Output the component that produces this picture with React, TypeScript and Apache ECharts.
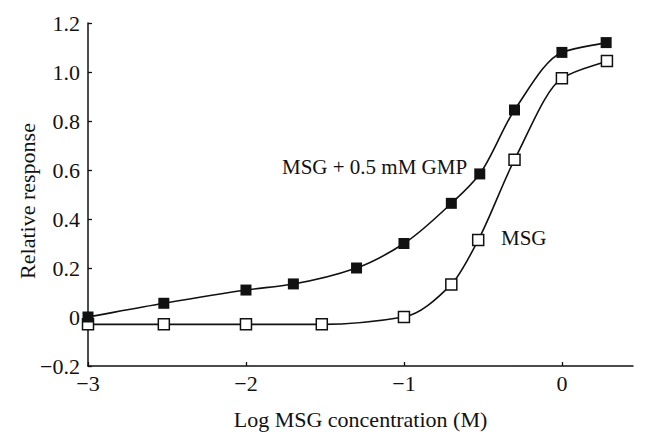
import React, { useEffect, useRef } from "react";
import * as echarts from "echarts";

const gmpX = [-3, -2.52, -2, -1.7, -1.3, -1, -0.7, -0.52, -0.3, 0, 0.28];
const gmpY = [0.0, 0.056, 0.11, 0.135, 0.2, 0.3, 0.464, 0.584, 0.845, 1.08, 1.12];
const msgX = [-3, -2.52, -2, -1.52, -1, -0.7, -0.53, -0.3, 0, 0.285];
const msgY = [-0.03, -0.03, -0.03, -0.03, 0.0, 0.133, 0.314, 0.642, 0.974, 1.045];
const xTicks = [-3, -2, -1, 0];
const seriesLabels = ["MSG + 0.5 mM GMP", "MSG"];
const yTitle = "Relative response";
const xTitle = "Log MSG concentration (M)";

const FONT = "'Liberation Serif', 'DejaVu Serif', serif";

// Monotone (PCHIP) bezier segment renderer working on pixel coordinates from the axes
function makeCurveRenderer(xs: number[], ys: number[]) {
  return (params: any, api: any) => {
    const i = params.dataIndex;
    const n = xs.length;
    if (i >= n - 1) return null;
    const P = xs.map((x, k) => api.coord([x, ys[k]]));
    const h: number[] = [];
    const d: number[] = [];
    for (let k = 0; k < n - 1; k++) {
      h[k] = P[k + 1][0] - P[k][0];
      d[k] = (P[k + 1][1] - P[k][1]) / h[k];
    }
    const m: number[] = [];
    m[0] = d[0];
    m[n - 1] = d[n - 2];
    for (let k = 1; k < n - 1; k++) {
      if (d[k - 1] * d[k] <= 0) m[k] = 0;
      else {
        const w1 = 2 * h[k] + h[k - 1];
        const w2 = h[k] + 2 * h[k - 1];
        m[k] = (w1 + w2) / (w1 / d[k - 1] + w2 / d[k]);
      }
    }
    const hh = h[i] / 3;
    return {
      type: "bezierCurve",
      shape: {
        x1: P[i][0],
        y1: P[i][1],
        x2: P[i + 1][0],
        y2: P[i + 1][1],
        cpx1: P[i][0] + hh,
        cpy1: P[i][1] + m[i] * hh,
        cpx2: P[i + 1][0] - hh,
        cpy2: P[i + 1][1] - m[i + 1] * hh,
      },
      style: { stroke: "#111", lineWidth: 1.6, fill: "none" },
    };
  };
}

export default function App() {
  const ref = useRef<HTMLDivElement>(null);
  useEffect(() => {
    if (!ref.current) return;
    const chart = echarts.init(ref.current, null, { renderer: "svg" });
    const fmt = (v: number) => {
      if (Math.abs(v) < 1e-9) return "0";
      return v.toFixed(1).replace("-", "\u2212");
    };
    const gmpData = gmpX.map((x, i) => [x, gmpY[i]]);
    const msgData = msgX.map((x, i) => [x, msgY[i]]);
    chart.setOption({
      animation: false,
      backgroundColor: "#ffffff",
      textStyle: { fontFamily: FONT },
      grid: { left: 88, right: 14, top: 23, bottom: 77, containLabel: false },
      xAxis: {
        type: "value",
        min: -3,
        max: 0.45,
        interval: 1,
        name: xTitle,
        nameLocation: "middle",
        nameGap: 42,
        nameTextStyle: { fontFamily: FONT, fontSize: 22, color: "#111" },
        axisLine: { show: true, onZero: false, lineStyle: { color: "#111", width: 1.5 } },
        axisTick: { show: true, inside: true, length: 4, customValues: xTicks, lineStyle: { color: "#111", width: 1.3 } },
        axisLabel: {
          customValues: xTicks,
          fontFamily: FONT,
          fontSize: 22,
          color: "#111",
          margin: 6,
          formatter: (v: number) => (Math.abs(v) < 1e-9 ? "0" : String(Math.round(v)).replace("-", "\u2212")),
        },
        splitLine: { show: false },
      },
      yAxis: {
        type: "value",
        min: -0.2,
        max: 1.2,
        interval: 0.2,
        axisLine: { show: true, onZero: false, lineStyle: { color: "#111", width: 1.5 } },
        axisTick: { show: true, inside: true, length: 4, lineStyle: { color: "#111", width: 1.3 } },
        axisLabel: { fontFamily: FONT, fontSize: 22, color: "#111", margin: 8, formatter: fmt },
        splitLine: { show: false },
      },
      series: [
        {
          name: seriesLabels[1] + " curve",
          type: "custom",
          data: msgData,
          encode: { x: 0, y: 1 },
          renderItem: makeCurveRenderer(msgX, msgY),
          z: 2,
          silent: true,
        },
        {
          name: seriesLabels[0] + " curve",
          type: "custom",
          data: gmpData,
          encode: { x: 0, y: 1 },
          renderItem: makeCurveRenderer(gmpX, gmpY),
          z: 2,
          silent: true,
        },
        {
          name: seriesLabels[1],
          type: "scatter",
          data: msgData,
          symbol: "rect",
          symbolSize: 11,
          itemStyle: { color: "#ffffff", borderColor: "#111", borderWidth: 1.5, opacity: 1 },
          z: 3,
        },
        {
          name: seriesLabels[0],
          type: "scatter",
          data: gmpData,
          symbol: "rect",
          symbolSize: 11,
          itemStyle: { color: "#111", borderWidth: 0, opacity: 1 },
          z: 4,
        },
      ],
      graphic: [
        {
          type: "text",
          x: 27,
          y: 201,
          rotation: Math.PI / 2,
          style: {
            text: yTitle,
            font: `22px ${FONT}`,
            fill: "#111",
            align: "center",
            verticalAlign: "middle",
          },
        },
        {
          type: "text",
          left: 282,
          top: 156,
          style: { text: seriesLabels[0], font: `21px ${FONT}`, fill: "#111" },
        },
        {
          type: "text",
          left: 501,
          top: 227,
          style: { text: seriesLabels[1], font: `21px ${FONT}`, fill: "#111" },
        },
      ],
    });
    return () => chart.dispose();
  }, []);
  return (
    <div
      ref={ref}
      style={{ position: "absolute", left: 0, top: 0, width: 647, height: 443 }}
    />
  );
}
